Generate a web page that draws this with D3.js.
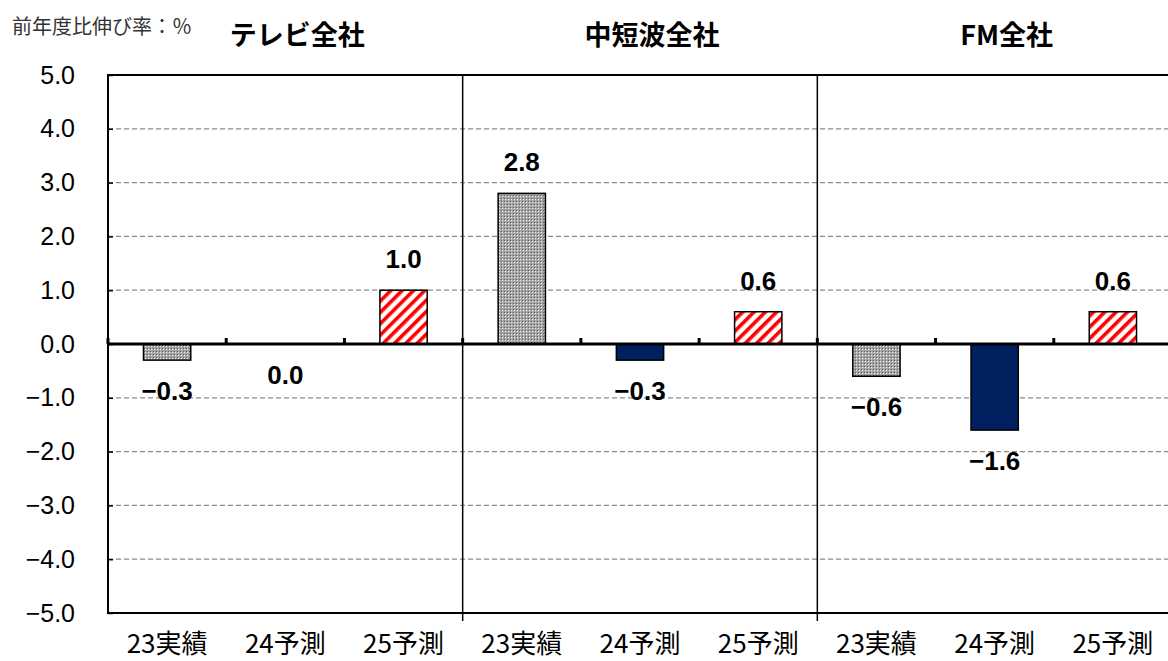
<!DOCTYPE html>
<html>
<head>
<meta charset="utf-8">
<script src="https://cdn.jsdelivr.net/npm/d3@7"></script>
<style>
  body { margin: 0; background: #fff; }
  svg { display: block; }
  .grid line { stroke: #8a8a8a; stroke-dasharray: 5,3; stroke-width: 1.3; }
</style>
</head>
<body>
<div id="chart"></div>
<script>
// 前年度比伸び率 (%)
var groups = ["テレビ全社", "中短波全社", "FM全社"];
var periods = ["23実績", "24予測", "25予測"];
var tvValues = [-0.3, 0.0, 1.0];
var mwValues = [2.8, -0.3, 0.6];
var fmValues = [-0.6, -1.6, 0.6];
var yTickValues = [5, 4, 3, 2, 1, 0, -1, -2, -3, -4, -5];

var width = 1168, height = 661;
var margin = {top: 75, left: 108, bottom: 48};
var plotRight = 1172;   // the frame runs just past the right edge of the picture

var svg = d3.select("#chart").append("svg")
    .attr("width", width)
    .attr("height", height);

var defs = svg.append("defs");

// 23実績 : gray dotted fill
var dots = defs.append("pattern")
    .attr("id", "dots")
    .attr("patternUnits", "userSpaceOnUse")
    .attr("width", 3).attr("height", 3);
dots.append("rect").attr("width", 3).attr("height", 3).attr("fill", "#a4a4a4");
dots.append("rect").attr("x", 1).attr("y", 1).attr("width", 1).attr("height", 1).attr("fill", "#f4f4f4");
dots.append("rect").attr("x", 0).attr("y", 0).attr("width", 1).attr("height", 1).attr("fill", "#606060");

// 25予測 : red diagonal stripes
var stripes = defs.append("pattern")
    .attr("id", "stripes")
    .attr("patternUnits", "userSpaceOnUse")
    .attr("width", 8).attr("height", 8)
    .attr("patternTransform", "rotate(45)");
stripes.append("rect").attr("width", 8).attr("height", 8).attr("fill", "#fff");
stripes.append("rect").attr("width", 3.6).attr("height", 8).attr("fill", "#ff0000");

var periodFill = {"23実績": "url(#dots)", "24予測": "#002060", "25予測": "url(#stripes)"};

var data = [];
[tvValues, mwValues, fmValues].forEach(function (vals, gi) {
    vals.forEach(function (v, pi) {
        data.push({group: groups[gi], period: periods[pi], key: gi + "-" + pi, value: v});
    });
});

var x = d3.scaleBand()
    .domain(data.map(function (d) {return d.key;}))
    .range([margin.left, plotRight])
    .paddingInner(0.6)
    .paddingOuter(0.3);

var xGroup = d3.scaleBand()
    .domain(groups)
    .range([margin.left, plotRight]);

var y = d3.scaleLinear()
    .domain([-5, 5])
    .range([height - margin.bottom, margin.top]);

var fmt = d3.format(".1f");

// gridlines
svg.append("g")
    .attr("class", "grid")
    .selectAll("line")
    .data(yTickValues.filter(function (t) {return t !== 0 && t !== 5 && t !== -5;}))
    .enter().append("line")
    .attr("x1", margin.left).attr("x2", plotRight)
    .attr("y1", function (d) {return y(d);})
    .attr("y2", function (d) {return y(d);});

// y axis
var yAxis = svg.append("g")
    .attr("transform", "translate(" + margin.left + ",0)")
    .call(d3.axisLeft(y).tickValues(yTickValues).tickFormat(fmt).tickSize(-5).tickPadding(33));
yAxis.select(".domain").remove();
yAxis.selectAll(".tick line").attr("stroke", "#000").attr("stroke-width", 1.5);
yAxis.selectAll("text")
    .attr("fill", "#000")
    .style("font-family", "'Liberation Sans', Arial, sans-serif")
    .style("font-size", "25px");

// frame
svg.append("rect")
    .attr("x", margin.left).attr("y", y(5))
    .attr("width", plotRight - margin.left)
    .attr("height", y(-5) - y(5))
    .attr("fill", "none")
    .attr("stroke", "#000")
    .attr("stroke-width", 2);

// group dividers
svg.selectAll(".divider")
    .data(groups.slice(1))
    .enter().append("line")
    .attr("class", "divider")
    .attr("x1", function (d) {return xGroup(d);})
    .attr("x2", function (d) {return xGroup(d);})
    .attr("y1", y(5))
    .attr("y2", y(-5) + 8)
    .attr("stroke", "#000")
    .attr("stroke-width", 1.5);

// bars
svg.selectAll(".bar")
    .data(data)
    .enter().append("rect")
    .attr("class", "bar")
    .attr("x", function (d) {return x(d.key);})
    .attr("width", x.bandwidth())
    .attr("y", function (d) {return y(Math.max(0, d.value));})
    .attr("height", function (d) {return Math.abs(y(d.value) - y(0));})
    .attr("fill", function (d) {return periodFill[d.period];})
    .attr("stroke", "#000")
    .attr("stroke-width", function (d) {return d.value === 0 ? 0 : 1.5;});

// zero line with category ticks
svg.append("line")
    .attr("x1", margin.left).attr("x2", plotRight)
    .attr("y1", y(0)).attr("y2", y(0))
    .attr("stroke", "#000")
    .attr("stroke-width", 3);

var step = (plotRight - margin.left) / data.length;
svg.selectAll(".cat-tick")
    .data(data)
    .enter().append("line")
    .attr("class", "cat-tick")
    .attr("x1", function (d, i) {return margin.left + i * step;})
    .attr("x2", function (d, i) {return margin.left + i * step;})
    .attr("y1", y(0))
    .attr("y2", y(0) - 6)
    .attr("stroke", "#000")
    .attr("stroke-width", 3);

// value labels
svg.selectAll(".val")
    .data(data)
    .enter().append("text")
    .attr("class", "val")
    .attr("x", function (d) {return x(d.key) + x.bandwidth() / 2;})
    .attr("y", function (d) {return d.value > 0 ? y(d.value) - 31 : y(d.value) + 31;})
    .attr("text-anchor", "middle")
    .attr("dominant-baseline", "central")
    .style("font-family", "'Liberation Sans', Arial, sans-serif")
    .style("font-weight", "bold")
    .style("font-size", "26px")
    .text(function (d) {return fmt(d.value);});

// category labels
svg.selectAll(".cat")
    .data(data)
    .enter().append("text")
    .attr("class", "cat")
    .attr("x", function (d) {return x(d.key) + x.bandwidth() / 2;})
    .attr("y", 653)
    .attr("text-anchor", "middle")
    .style("font-family", "'Noto Sans CJK JP', sans-serif")
    .style("font-size", "26px")
    .text(function (d) {return d.period;});

// group titles
svg.selectAll(".title")
    .data(groups)
    .enter().append("text")
    .attr("class", "title")
    .attr("x", function (d) {return xGroup(d) + xGroup.bandwidth() / 2 + 12;})
    .attr("y", 45)
    .attr("text-anchor", "middle")
    .style("font-family", "'Noto Sans CJK JP', sans-serif")
    .style("font-weight", "bold")
    .style("font-size", "27px")
    .text(function (d) {return d;});

// unit note
svg.append("text")
    .attr("x", 12)
    .attr("y", 34)
    .attr("fill", "#333")
    .style("font-family", "'Noto Sans CJK JP', sans-serif")
    .style("font-size", "20px")
    .text("前年度比伸び率：％");
</script>
</body>
</html>
